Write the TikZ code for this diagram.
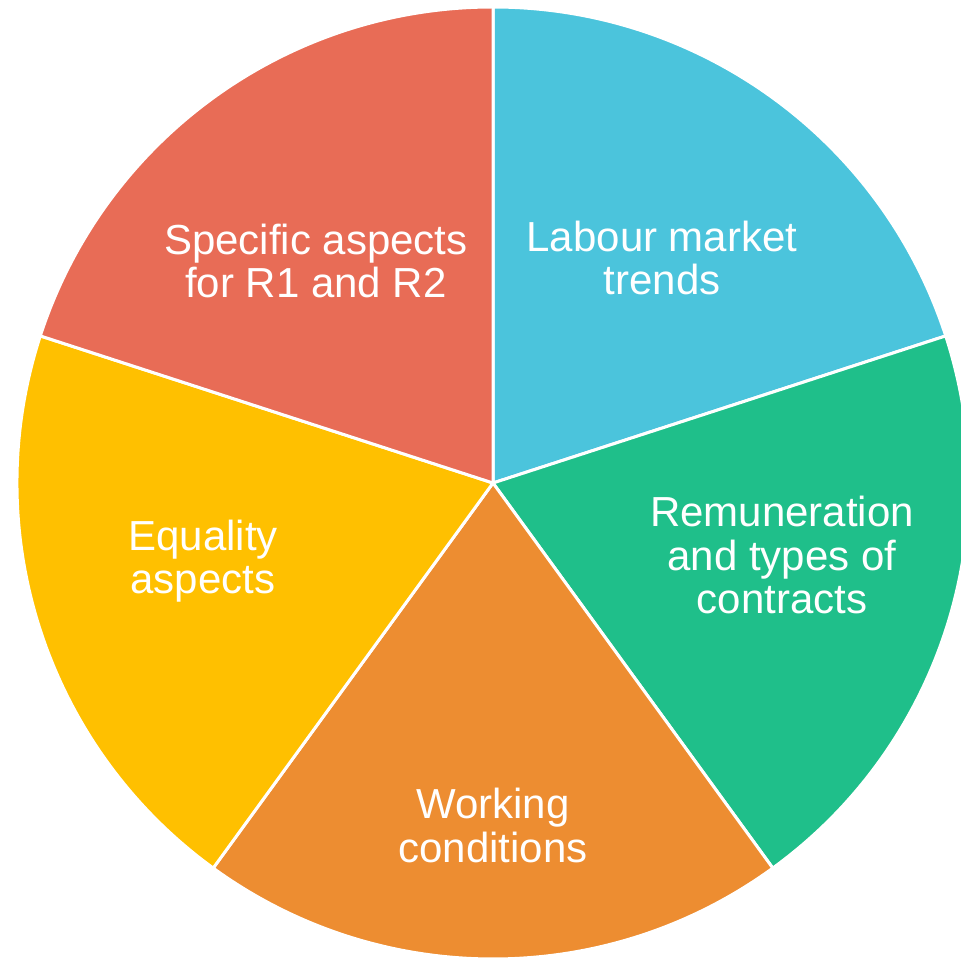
\documentclass[tikz,border=0pt]{standalone}
\usepackage{fontspec}
\setmainfont{Liberation Sans}
\definecolor{pieblue}{RGB}{75,196,220}
\definecolor{piegreen}{RGB}{31,191,138}
\definecolor{pieorange}{RGB}{237,141,49}
\definecolor{pieyellow}{RGB}{255,192,0}
\definecolor{piered}{RGB}{232,108,86}
\begin{document}
\begin{tikzpicture}[x=1pt,y=1pt,
  slice/.style={draw=white,line width=3pt,line join=miter},
  lbl/.style={text=white,align=center,inner sep=0pt,anchor=base,
    font=\fontsize{42}{43.5}\selectfont}]
\useasboundingbox (0,0) rectangle (961,959);
\clip (0,0) rectangle (961,959);
\coordinate (c) at (493,476);
\def\rad{476}
% five equal sectors
\fill[pieblue,slice]   (c) -- ++(18:\rad)  arc[start angle=18,  end angle=90,  radius=\rad] -- cycle;
\fill[piegreen,slice]  (c) -- ++(-54:\rad) arc[start angle=-54, end angle=18,  radius=\rad] -- cycle;
\fill[pieorange,slice] (c) -- ++(-126:\rad) arc[start angle=-126, end angle=-54, radius=\rad] -- cycle;
\fill[pieyellow,slice] (c) -- ++(162:\rad) arc[start angle=162, end angle=234, radius=\rad] -- cycle;
\fill[piered,slice]    (c) -- ++(90:\rad)  arc[start angle=90,  end angle=162, radius=\rad] -- cycle;
% sector labels (anchored at the baseline of the last line)
\node[lbl] (labour) at (662,664) {Labour market\\trends};
\node[lbl] (remun)  at (782,345) {Remuneration\\and types of\\contracts};
\node[lbl] (work)   at (493,97)  {Working\\conditions};
\node[lbl] (equal)  at (203,365) {Equality\\aspects};
\node[lbl] (spec)   at (316,661) {Specific aspects\\for R1 and R2};
\end{tikzpicture}
\end{document}
